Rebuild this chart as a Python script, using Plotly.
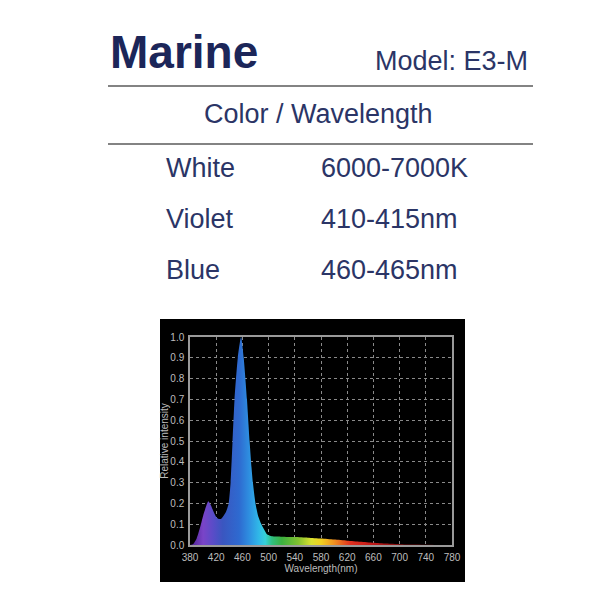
import plotly.graph_objects as go

# ---- data ----
wavelength_nm = [380, 385, 390, 395, 400, 405, 408, 412, 416, 420, 424, 427, 430, 435, 439, 442,
                 445, 448, 453, 458, 462, 467, 471, 474, 476, 480, 484, 489, 494, 498, 505, 520,
                 540, 560, 580, 600, 620, 640, 660, 680, 700, 720, 740, 760, 780]
intensity = [0.0, 0.005, 0.03, 0.08, 0.14, 0.19, 0.21, 0.19, 0.16, 0.135, 0.125, 0.125, 0.135, 0.16,
             0.2, 0.3, 0.5, 0.7, 0.9, 1.0, 0.9, 0.7, 0.5, 0.37, 0.3, 0.2, 0.14, 0.1, 0.07, 0.05,
             0.042, 0.04, 0.038, 0.035, 0.031, 0.026, 0.021, 0.016, 0.011, 0.007, 0.004, 0.002,
             0.001, 0.0, 0.0]
x_ticks = [380, 420, 460, 500, 540, 580, 620, 660, 700, 740, 780]
x_tick_text = ["380", "420", "460", "500", "540", "580", "620", "660", "700", "740", "780"]
y_ticks = [0.0, 0.1, 0.2, 0.3, 0.4, 0.5, 0.6, 0.7, 0.8, 0.9, 1.0]
y_tick_text = ["0.0", "0.1", "0.2", "0.3", "0.4", "0.5", "0.6", "0.7", "0.8", "0.9", "1.0"]

title_text = "Marine"
model_text = "Model: E3-M"
header_text = "Color / Wavelength"
led_colors = ["White", "Violet", "Blue"]
led_specs = ["6000-7000K", "410-415nm", "460-465nm"]

W, H = 600, 608
OFF = 8  # page body margin offset


def px(x):
    return (x - OFF) / W


def py(y):
    return 1 - (y - OFF) / H


spectrum_scale = [
    [(380 - 380) / 400, "#4a2090"],
    [(400 - 380) / 400, "#7a44c8"],
    [(415 - 380) / 400, "#5a4cc8"],
    [(430 - 380) / 400, "#3a56c0"],
    [(455 - 380) / 400, "#2e6ad0"],
    [(470 - 380) / 400, "#2e8ee0"],
    [(485 - 380) / 400, "#30b8e8"],
    [(495 - 380) / 400, "#36d0d8"],
    [(505 - 380) / 400, "#30c080"],
    [(520 - 380) / 400, "#3cb040"],
    [(545 - 380) / 400, "#80c030"],
    [(565 - 380) / 400, "#d8e030"],
    [(580 - 380) / 400, "#f0d020"],
    [(600 - 380) / 400, "#f09020"],
    [(625 - 380) / 400, "#e03020"],
    [(660 - 380) / 400, "#c01818"],
    [(700 - 380) / 400, "#801010"],
    [(780 - 380) / 400, "#400808"],
]

fig = go.Figure()
fig.add_trace(go.Scatter(
    x=wavelength_nm, y=intensity, mode="lines",
    line=dict(width=0, color="rgba(0,0,0,0)", shape="spline", smoothing=0.6),
    fill="tozeroy",
    fillgradient=dict(type="horizontal", colorscale=spectrum_scale, start=380, stop=780),
    hoverinfo="skip", showlegend=False,
))

font_family = "Liberation Sans, Arial, sans-serif"
tick_font = dict(family=font_family, size=10, color="#bdbdbd")
fig.update_layout(
    width=W, height=H,
    margin=dict(l=0, r=0, t=0, b=0),
    paper_bgcolor="white",
    plot_bgcolor="black",
    showlegend=False,
    xaxis=dict(
        domain=[px(190), px(452)], range=[380, 780],
        tickvals=x_ticks, ticktext=x_tick_text, tickfont=tick_font,
        showgrid=True, gridcolor="#8a8a8a", griddash="dot", gridwidth=1,
        showline=True, mirror=True, linecolor="#9a9a9a", linewidth=1.5,
        ticks="", zeroline=False, ticklabelstandoff=2, automargin=False,
        title=dict(text="Wavelength(nm)", font=dict(family=font_family, size=10, color="#bdbdbd"), standoff=0),
    ),
    yaxis=dict(
        domain=[py(545), py(337)], range=[0, 1.0],
        tickvals=y_ticks, ticktext=y_tick_text, tickfont=tick_font,
        showgrid=True, gridcolor="#8a8a8a", griddash="dot", gridwidth=1,
        showline=True, mirror=True, linecolor="#9a9a9a", linewidth=1.5,
        ticks="", zeroline=False, ticklabelstandoff=2, automargin=False,
        title=dict(text="Relative intensity", font=dict(family=font_family, size=10, color="#bdbdbd"), standoff=0),
    ),
)

# black panel behind chart
fig.add_shape(type="rect", xref="paper", yref="paper",
              x0=px(160), x1=px(465), y0=py(582), y1=py(319),
              fillcolor="black", line=dict(width=0), layer="below")

# separator lines
for yy in (86, 144):
    fig.add_shape(type="line", xref="paper", yref="paper",
                  x0=px(108), x1=px(533), y0=py(yy), y1=py(yy),
                  line=dict(color="#5a5a5a", width=1.5))

fig.add_annotation(text="<b>" + title_text + "</b>", xref="paper", yref="paper",
                   x=px(108), y=py(52), xanchor="left", yanchor="middle", showarrow=False,
                   font=dict(family=font_family, size=46, color="#1c2659"))
fig.add_annotation(text=model_text, xref="paper", yref="paper",
                   x=px(530), y=py(61), xanchor="right", yanchor="middle", showarrow=False,
                   font=dict(family=font_family, size=27, color="#2b3566"))
fig.add_annotation(text=header_text, xref="paper", yref="paper",
                   x=px(318), y=py(114), xanchor="center", yanchor="middle", showarrow=False,
                   font=dict(family=font_family, size=27, color="#2b3566"))
row_y = [168, 219, 270]
for name, spec, yy in zip(led_colors, led_specs, row_y):
    fig.add_annotation(text=name, xref="paper", yref="paper",
                       x=px(164), y=py(yy), xanchor="left", yanchor="middle", showarrow=False,
                       font=dict(family=font_family, size=27, color="#2b3566"))
    fig.add_annotation(text=spec, xref="paper", yref="paper",
                       x=px(319), y=py(yy), xanchor="left", yanchor="middle", showarrow=False,
                       font=dict(family=font_family, size=27, color="#2b3566"))

fig.write_html("out.html")
